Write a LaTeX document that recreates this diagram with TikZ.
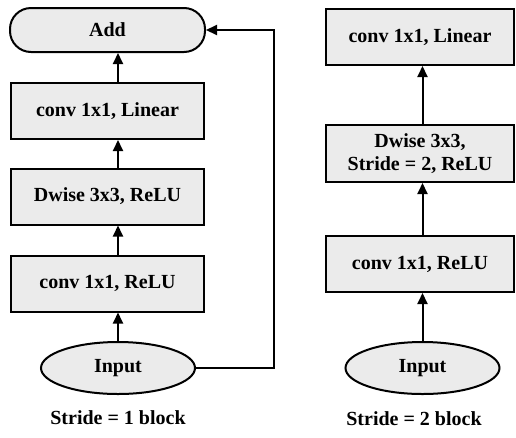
\documentclass[tikz,border=0pt]{standalone}
\usepackage{fontspec}
\setmainfont{Liberation Serif}
\usetikzlibrary{arrows.meta,shapes.geometric}
\tikzset{
  blk/.style={draw=black, line width=2pt, fill=black!8, font=\bfseries\fontsize{20}{23}\selectfont,
    inner sep=0pt, align=center},
  layer/.style={blk, rectangle, minimum height=56pt},
  addbox/.style={blk, rectangle, rounded corners=21pt, minimum height=44pt},
  inp/.style={blk, ellipse, minimum width=154pt, minimum height=52pt},
  caption/.style={font=\bfseries\fontsize{20}{23}\selectfont},
  flow/.style={line width=2pt, -{Triangle[length=11pt,width=10pt]}}
}
\begin{document}
\begin{tikzpicture}[x=1pt,y=-1pt]
\useasboundingbox (0,0) rectangle (516,437);
% stride 1 block
\node[addbox, minimum width=195pt] (add) at (107.5,30) {Add};
\node[layer, minimum width=193pt] (lin1) at (107.5,111) {conv 1x1, Linear};
\node[layer, minimum width=193pt] (dw1) at (107.5,196.5) {Dwise 3x3, ReLU};
\node[layer, minimum width=193pt] (exp1) at (107.5,283.5) {conv 1x1, ReLU};
\node[inp] (in1) at (118,368) {Input};
\node[caption] (cap1) at (118,418) {Stride = 1 block};
\draw[flow] (in1.north) -- (exp1.south -| in1.north);
\draw[flow] (exp1.north -| in1.north) -- (dw1.south -| in1.north);
\draw[flow] (dw1.north -| in1.north) -- (lin1.south -| in1.north);
\draw[flow] (lin1.north -| in1.north) -- (add.south -| in1.north);
\coordinate (skip) at (274,30);
\draw[flow] (in1.east) -| (skip) -- (add.east);
% stride 2 block
\node[layer, minimum width=188pt] (lin2) at (420,37) {conv 1x1, Linear};
\node[layer, minimum width=188pt, minimum height=57pt] (dw2) at (420,153.5) {Dwise 3x3,\\Stride = 2, ReLU};
\node[layer, minimum width=188pt] (exp2) at (420,264) {conv 1x1, ReLU};
\node[inp] (in2) at (422.5,368) {Input};
\node[caption] (cap2) at (414,419) {Stride = 2 block};
\draw[flow] (in2.north) -- (exp2.south -| in2.north);
\draw[flow] (exp2.north -| in2.north) -- (dw2.south -| in2.north);
\draw[flow] (dw2.north -| in2.north) -- (lin2.south -| in2.north);
\end{tikzpicture}
\end{document}
